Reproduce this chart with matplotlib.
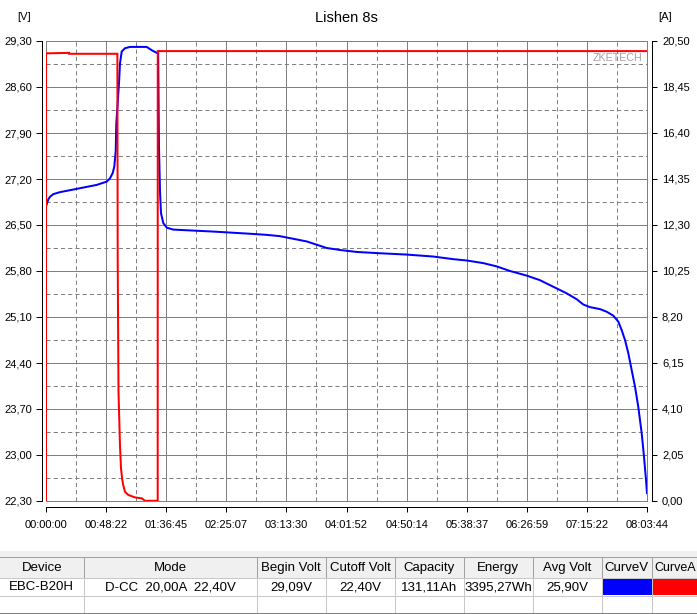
import matplotlib
matplotlib.use('Agg')
import matplotlib.pyplot as plt
from matplotlib.patches import Rectangle
import numpy as np

plt.rcParams['font.family'] = ['Liberation Sans', 'DejaVu Sans']
plt.rcParams['lines.scale_dashes'] = False

# ---------------- data ----------------
total_minutes = 483.733  # 08:03:44
time_tick_labels = ["00:00:00", "00:48:22", "01:36:45", "02:25:07", "03:13:30",
                    "04:01:52", "04:50:14", "05:38:37", "06:26:59", "07:15:22", "08:03:44"]
volt_ticks = [22.30, 23.00, 23.70, 24.40, 25.10, 25.80, 26.50, 27.20, 27.90, 28.60, 29.30]
volt_tick_labels = ["22,30", "23,00", "23,70", "24,40", "25,10", "25,80",
                    "26,50", "27,20", "27,90", "28,60", "29,30"]
amp_ticks = [0.00, 2.05, 4.10, 6.15, 8.20, 10.25, 12.30, 14.35, 16.40, 18.45, 20.50]
amp_tick_labels = ["0,00", "2,05", "4,10", "6,15", "8,20", "10,25",
                   "12,30", "14,35", "16,40", "18,45", "20,50"]

# voltage curve (minutes, volts)
volt_t = [0.5, 1.85, 3.22, 5.88, 11.27, 16.66, 24.71, 32.76, 40.81, 48.86, 51.51,
          53.69, 54.97, 56.10, 56.58, 58.76, 59.56, 60.93, 63.59, 67.61, 81.05,
          85.08, 89.10, 90.3, 90.9, 91.76, 92.56, 94.41, 97.15, 102.46, 113.25,
          134.66, 161.54, 177.64, 188.34, 199.05, 209.83, 217.88, 225.93, 236.63,
          250.07, 268.83, 290.32, 311.73, 327.82, 338.61, 351.97, 362.76, 373.46,
          386.90, 397.61, 408.32, 419.10, 427.15, 432.46, 437.86, 445.90, 451.30,
          456.61, 460.63, 463.37, 466.03, 468.68, 471.42, 474.08, 476.73, 479.47,
          481.33, 482.94, 483.73]
volt_v = [26.81, 26.89, 26.93, 26.97, 27.00, 27.02, 27.05, 27.08, 27.11, 27.16, 27.21,
          27.29, 27.39, 27.62, 28.04, 28.66, 28.96, 29.14, 29.19, 29.21, 29.21,
          29.16, 29.12, 29.11, 27.72, 27.01, 26.68, 26.53, 26.46, 26.43, 26.42,
          26.40, 26.37, 26.35, 26.33, 26.29, 26.25, 26.20, 26.15, 26.12,
          26.09, 26.07, 26.05, 26.02, 25.98, 25.96, 25.92, 25.87, 25.80,
          25.73, 25.66, 25.56, 25.46, 25.37, 25.29, 25.25, 25.22, 25.18,
          25.12, 25.03, 24.90, 24.75, 24.55, 24.29, 24.04, 23.73, 23.33,
          22.97, 22.62, 22.42]

# current curve (minutes, amps)
amp_t = [0.0, 0.05, 18.5, 18.6, 57.45, 57.7, 58.35, 59.56, 60.37, 61.41, 62.2,
         63.59, 66.24, 71.63, 77.03, 79.68, 89.90, 89.95, 483.73]
amp_i = [0.0, 19.95, 19.97, 19.93, 19.93, 10.87, 4.87, 2.46, 1.44, 0.94, 0.70,
         0.41, 0.27, 0.16, 0.12, 0.01, 0.01, 20.05, 20.05]

table_headers = ["Device", "Mode", "Begin Volt", "Cutoff Volt", "Capacity",
                 "Energy", "Avg Volt", "CurveV", "CurveA"]
table_values = ["EBC-B20H", "D-CC  20,00A  22,40V", "29,09V", "22,40V",
                "131,11Ah", "3395,27Wh", "25,90V", "", ""]
curve_colors = {"CurveV": "#0000ff", "CurveA": "#ff0000"}

# ---------------- layout ----------------
W, H, DPI = 697, 614, 100
fig = plt.figure(figsize=(W / DPI, H / DPI), dpi=DPI)
fig.patch.set_facecolor('white')
PT = 72.0 / DPI  # points per pixel

L, R, T, B = 46, 647, 41, 501
pos = [L / W, (H - B) / H, (R - L) / W, (B - T) / H]
GRID = '#808080'

# gray frame axes
frame = fig.add_axes(pos, zorder=0)
frame.set_xticks([]); frame.set_yticks([])
frame.patch.set_visible(False)
for s in frame.spines.values():
    s.set_color(GRID); s.set_linewidth(1 * PT)

ax = fig.add_axes(pos, zorder=1)
ax.patch.set_visible(False)
ax.set_xlim(0, total_minutes)
ax.set_ylim(volt_ticks[0], volt_ticks[-1])

xt = np.linspace(0, total_minutes, len(time_tick_labels))
ax.set_xticks(xt)
ax.set_xticklabels(time_tick_labels)
ax.set_xticks((xt[:-1] + xt[1:]) / 2, minor=True)
ax.set_yticks(volt_ticks)
ax.set_yticklabels(volt_tick_labels)
vt = np.array(volt_ticks)
ax.set_yticks((vt[:-1] + vt[1:]) / 2, minor=True)

ax.grid(which='major', color=GRID, linewidth=1 * PT, linestyle='-')
ax.grid(which='minor', color=GRID, linewidth=1 * PT, linestyle=(0, (3.0, 2.2)))
ax.set_axisbelow(True)

ax.spines['top'].set_visible(False)
ax.spines['right'].set_visible(False)
ax.spines['left'].set_position(('outward', 4 * PT))
ax.spines['bottom'].set_position(('outward', 6 * PT))
for k in ('left', 'bottom'):
    ax.spines[k].set_color('black'); ax.spines[k].set_linewidth(1 * PT)

ax.tick_params(axis='y', which='major', direction='out', length=6 * PT, width=1 * PT,
               pad=4 * PT, labelsize=8)
ax.tick_params(axis='x', which='major', direction='out', length=5 * PT, width=1 * PT,
               pad=8 * PT, labelsize=8)
ax.tick_params(which='minor', length=0)

ax.plot(volt_t, volt_v, color='#0000ff', linewidth=2 * PT, solid_joinstyle='miter')

ax2 = ax.twinx()
ax2.set_ylim(amp_ticks[0], amp_ticks[-1])
ax2.set_yticks(amp_ticks)
ax2.set_yticklabels(amp_tick_labels)
for k in ('top', 'left', 'bottom'):
    ax2.spines[k].set_visible(False)
ax2.spines['right'].set_position(('outward', 5 * PT))
ax2.spines['right'].set_color('black'); ax2.spines['right'].set_linewidth(1 * PT)
ax2.tick_params(axis='y', direction='out', length=5 * PT, width=1 * PT,
                pad=5 * PT, labelsize=8)
ax2.plot(amp_t, amp_i, color='#ff0000', linewidth=2 * PT, solid_joinstyle='miter')

ax.text((642 - L) / (R - L), (B - 53) / (B - T), 'ZKETECH', transform=ax.transAxes,
        ha='right', va='top', fontsize=7.7, color='#a0a0a0')

fig.text((L + R) / 2 / W, 1 - 18 / H, 'Lishen 8s', ha='center', va='center', fontsize=10.5)
fig.text(24 / W, 1 - 17 / H, '[V]', ha='center', va='center', fontsize=8)
fig.text(665 / W, 1 - 17 / H, '[A]', ha='center', va='center', fontsize=8)

# ---------------- table ----------------
tab = fig.add_axes([0, 0, 1, 1], zorder=-1)
tab.set_xlim(0, W); tab.set_ylim(H, 0); tab.axis('off')
col_edges = [0, 83.5, 256.5, 326, 395, 464, 532.5, 601.5, 651.5, 697]
band_top, head_top, head_bot, row_bot, tab_bot = 551, 557, 577.5, 595.5, 613

tab.add_patch(Rectangle((0, band_top), W, head_top - band_top, facecolor='#f0f0f0',
                        edgecolor='none'))
tab.add_patch(Rectangle((0, head_top), W, head_bot - head_top, facecolor='#f0f0f0',
                        edgecolor='none'))
for i, name in enumerate(table_headers):
    x0, x1 = col_edges[i], col_edges[i + 1]
    fs = 9.5 if i < len(table_headers) - 1 else 9.0
    if name in curve_colors:
        tab.add_patch(Rectangle((x0 + 1, head_bot + 0.5), x1 - x0 - 1, row_bot - head_bot - 1,
                                facecolor=curve_colors[name], edgecolor='none'))
    tab.text((x0 + x1) / 2 + (1 if i == len(table_headers) - 1 else 0),
             (head_top + head_bot) / 2 + 0.5, name, ha='center', va='center',
             fontsize=fs)
    tab.text((x0 + x1) / 2, (head_bot + row_bot) / 2 + 0.5, table_values[i], ha='center',
             va='center', fontsize=9.5)
# grid lines
for x in col_edges[1:-1]:
    tab.plot([x, x], [head_top, head_bot], color='#a0a0a0', linewidth=1 * PT)
    tab.plot([x, x], [head_bot, tab_bot], color='#c8c8c8', linewidth=1 * PT)
tab.plot([0, W], [head_top, head_top], color='#a0a0a0', linewidth=1 * PT)
tab.plot([0, W], [head_bot, head_bot], color='#c8c8c8', linewidth=1 * PT)
tab.plot([0, W], [row_bot, row_bot], color='#c8c8c8', linewidth=1 * PT)
tab.plot([0, W], [tab_bot, tab_bot], color='#808080', linewidth=1 * PT)

fig.savefig('out.png', dpi=DPI, facecolor='white')
